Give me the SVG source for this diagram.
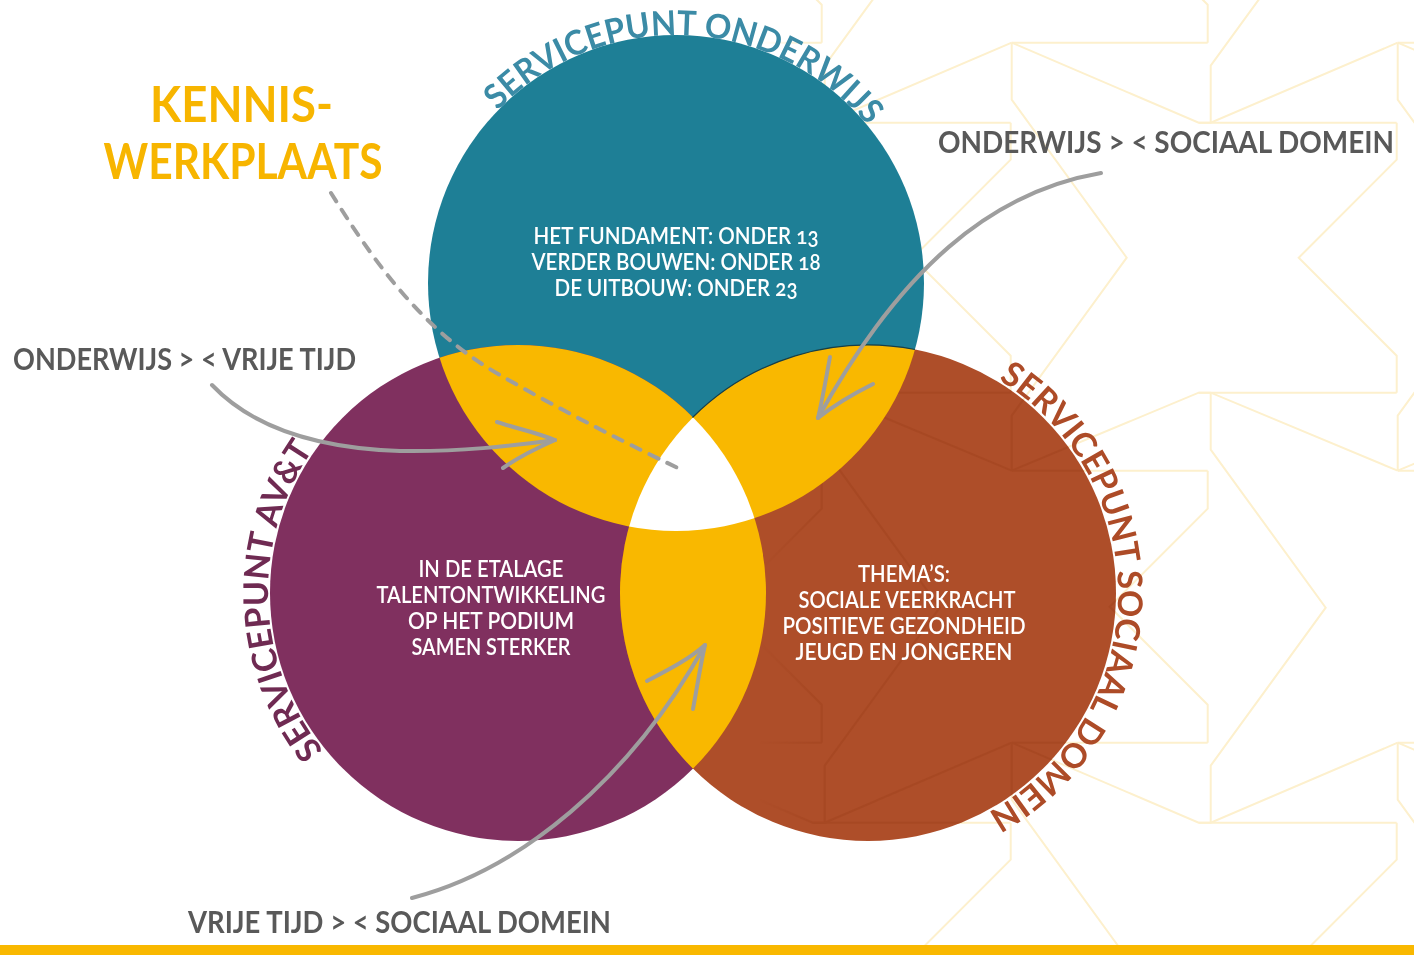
<svg xmlns="http://www.w3.org/2000/svg" xmlns:xlink="http://www.w3.org/1999/xlink" width="1414" height="955" viewBox="0 0 1414 955">
<style>
.pat{fill:none;stroke:#fdf0cd;stroke-width:2}
.patd{fill:none;stroke:#9f421d;stroke-width:2;opacity:.45}
.lbl{font-family:Lato,"Open Sans","Liberation Sans",sans-serif;font-weight:700;font-size:30px;fill:#595959}
.wt{font-family:Lato,"Liberation Sans",sans-serif;font-weight:600;font-size:22px;fill:#ffffff;text-anchor:middle;font-variant-numeric:oldstyle-nums}
.arc{font-family:Lato,"Liberation Sans",sans-serif;font-weight:700;font-size:34px}
.kw{font-family:Lato,"Liberation Sans",sans-serif;font-weight:700;font-size:50px;fill:#f7b500;text-anchor:middle}
.conn{fill:none;stroke:#9e9e9e;stroke-width:4;stroke-linecap:round;stroke-linejoin:round}
.dash{stroke-dasharray:10 10}
.yel{fill:#f9b800}
</style>
<defs>
  <clipPath id="cT"><circle cx="676" cy="283" r="248"/></clipPath>
  <clipPath id="cL"><circle cx="518" cy="593" r="248"/></clipPath>
  <clipPath id="cR"><circle cx="868" cy="593" r="248"/></clipPath>
  <linearGradient id="fade" gradientUnits="userSpaceOnUse" x1="760" y1="0" x2="815" y2="0">
    <stop offset="0" stop-color="#000"/>
    <stop offset="1" stop-color="#fff"/>
  </linearGradient>
  <mask id="m" maskUnits="userSpaceOnUse" x="0" y="0" width="1414" height="955">
    <rect x="0" y="0" width="1414" height="955" fill="url(#fade)"/>
  </mask>
  <g id="tile">
    <path d="M0,0 L187,80 L199,80 L386,0"/>
    <path d="M0,0 H196"/>
    <path d="M187,80 H385"/>
    <path d="M0,0 V57 L115,215 L0,373 V428"/>
    <path d="M385,80 V117 L287,215 L385,313 V350"/>
    <path d="M0,428 L187,350 L199,350 L386,428"/>
    <path d="M187,350 H385"/>
    <path d="M0,428 H196"/>
    <path d="M199,350 V407 L314,565 L199,723 V780"/>
    <path d="M196,428 V466 L98,564 L196,662 V700"/>
  </g>
  <g id="pattern">
    <use xlink:href="#tile" x="625.7" y="-657.3"/>
    <use xlink:href="#tile" x="1011.7" y="-657.3"/>
    <use xlink:href="#tile" x="1397.7" y="-657.3"/>
    <use xlink:href="#tile" x="625.7" y="42.7"/>
    <use xlink:href="#tile" x="1011.7" y="42.7"/>
    <use xlink:href="#tile" x="1397.7" y="42.7"/>
    <use xlink:href="#tile" x="625.7" y="742.7"/>
    <use xlink:href="#tile" x="1011.7" y="742.7"/>
    <use xlink:href="#tile" x="1397.7" y="742.7"/>
  </g>
  <path id="arcT" d="M497.6,110.7 A248,248 0 0 1 867.6,125.6"/>
  <path id="arcR" d="M998.6,379.8 A250,250 0 0 1 987.3,812.7"/>
  <path id="arcL" d="M323.7,750.3 A250,250 0 0 1 313.2,449.6"/>
</defs>

<rect x="0" y="0" width="1414" height="955" fill="#ffffff"/>
<g id="background" mask="url(#m)">
  <use xlink:href="#pattern" class="pat"/>
</g>

<g id="node-onderwijs">
  <circle cx="676" cy="283" r="248" fill="#1e7f96"/>
  <text class="arc" fill="#3b8ba6"><textPath xlink:href="#arcT" textLength="418" lengthAdjust="spacingAndGlyphs">SERVICEPUNT ONDERWIJS</textPath></text>
  <text class="wt" x="676" y="244" textLength="285" lengthAdjust="spacingAndGlyphs">HET FUNDAMENT: ONDER 13</text>
  <text class="wt" x="676" y="270" textLength="289" lengthAdjust="spacingAndGlyphs">VERDER BOUWEN: ONDER 18</text>
  <text class="wt" x="676" y="296" textLength="243" lengthAdjust="spacingAndGlyphs">DE UITBOUW: ONDER 23</text>
</g>

<g id="node-avt">
  <circle cx="518" cy="593" r="248" fill="#80305f"/>
  <text class="arc" fill="#6f2a52"><textPath xlink:href="#arcL" textLength="323" lengthAdjust="spacingAndGlyphs">SERVICEPUNT AV&amp;T</textPath></text>
  <text class="wt" x="491" y="577" textLength="145" lengthAdjust="spacingAndGlyphs">IN DE ETALAGE</text>
  <text class="wt" x="491" y="603" textLength="229" lengthAdjust="spacingAndGlyphs">TALENTONTWIKKELING</text>
  <text class="wt" x="491" y="629" textLength="166" lengthAdjust="spacingAndGlyphs">OP HET PODIUM</text>
  <text class="wt" x="491" y="655" textLength="159" lengthAdjust="spacingAndGlyphs">SAMEN STERKER</text>
</g>

<g id="node-sociaal">
  <circle cx="868" cy="593" r="248" fill="#ae4e29"/>
  <g clip-path="url(#cR)"><g mask="url(#m)"><use xlink:href="#pattern" class="patd"/></g></g>
  <text class="arc" fill="#ad4b27"><textPath xlink:href="#arcR" textLength="523" lengthAdjust="spacingAndGlyphs">SERVICEPUNT SOCIAAL DOMEIN</textPath></text>
  <text class="wt" x="904" y="582" textLength="92" lengthAdjust="spacingAndGlyphs">THEMA’S:</text>
  <text class="wt" x="907" y="608" textLength="217" lengthAdjust="spacingAndGlyphs">SOCIALE VEERKRACHT</text>
  <text class="wt" x="904" y="634" textLength="243" lengthAdjust="spacingAndGlyphs">POSITIEVE GEZONDHEID</text>
  <text class="wt" x="904" y="660" textLength="217" lengthAdjust="spacingAndGlyphs">JEUGD EN JONGEREN</text>
</g>

<g id="overlaps">
  <g clip-path="url(#cT)">
    <circle class="yel" cx="518" cy="593" r="248"/>
    <circle class="yel" cx="868" cy="593" r="248"/>
  </g>
  <g clip-path="url(#cL)">
    <circle class="yel" cx="868" cy="593" r="248"/>
  </g>
  <g clip-path="url(#cT)"><g clip-path="url(#cL)">
    <circle cx="868" cy="593" r="248" fill="#ffffff"/>
  </g></g>
  <path d="M692.5,417.5 A248,248 0 0 1 914.9,349.5" fill="none" stroke="#153f48" stroke-width="1.2"/>
</g>

<g id="connectors">
  <path class="conn dash" d="M331,193 C370,255 420,330 500,375 C560,410 640,450 682,470"/>
  <path class="conn" d="M212,385 C250,425 310,448 400,451 C460,452 510,446 555,440"/>
  <path class="conn" d="M497,422 C515,428 535,432 555,440 M503,468 C520,456 537,448 555,440"/>
  <path class="conn" d="M1101,173 C990,192 900,270 818,418"/>
  <path class="conn" d="M830,357 C826,378 823,397 818,418 M873,384 C855,393 838,402 818,418"/>
  <path class="conn" d="M412,898 C520,870 630,780 705,645"/>
  <path class="conn" d="M647,681 C668,670 688,660 705,645 M693,709 C697,688 700,667 705,645"/>
</g>

<g id="labels">
  <text class="kw" x="241.5" y="122" textLength="183" lengthAdjust="spacingAndGlyphs">KENNIS-</text>
  <text class="kw" x="243" y="179" textLength="279" lengthAdjust="spacingAndGlyphs">WERKPLAATS</text>
  <text class="lbl" x="13" y="370" textLength="343" lengthAdjust="spacingAndGlyphs">ONDERWIJS &gt; &lt; VRIJE TIJD</text>
  <text class="lbl" x="1394" y="153" text-anchor="end" textLength="456" lengthAdjust="spacingAndGlyphs">ONDERWIJS &gt; &lt; SOCIAAL DOMEIN</text>
  <text class="lbl" x="188" y="933" textLength="423" lengthAdjust="spacingAndGlyphs">VRIJE TIJD &gt; &lt; SOCIAAL DOMEIN</text>
</g>

<rect id="footer-bar" x="0" y="945" width="1414" height="10" fill="#f9b800"/>
</svg>
